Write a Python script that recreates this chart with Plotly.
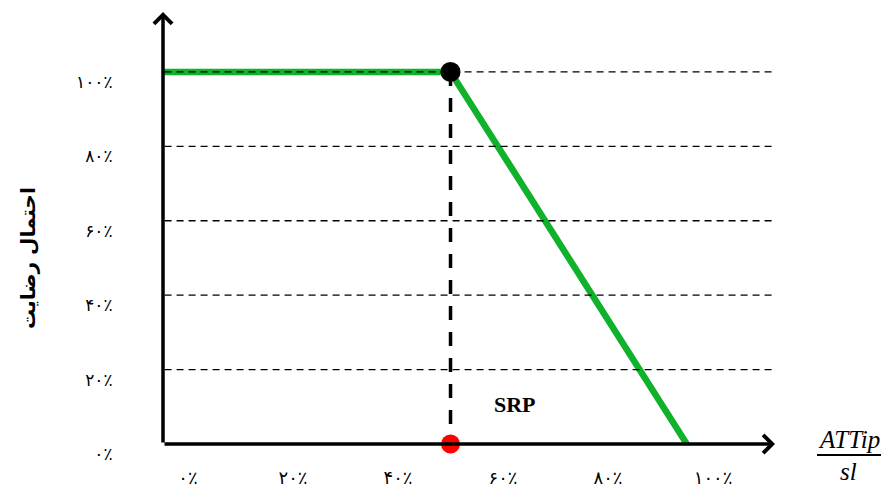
import plotly.graph_objects as go

# ---- data ----
tick_vals = [0, 20, 40, 60, 80, 100]
tick_text = ["۰٪", "۲۰٪", "۴۰٪", "۶۰٪", "۸۰٪", "۱۰۰٪"]
grid_vals = [20, 40, 60, 80, 100]

curve_x = [-4.6, 50, 95]      # satisfaction curve
curve_y = [100, 100, 0]
srp_x = 50                    # SRP point
srp_top = 100
srp_bottom = 0

X_MIN, X_MAX = -4.76, 111.8
Y_MIN, Y_MAX = 0, 116.1

fig = go.Figure()

fig.add_trace(go.Scatter(x=curve_x, y=curve_y, mode="lines",
                         line=dict(color="#10B22C", width=6.5), hoverinfo="skip"))

gx, gy = [], []
for v in grid_vals:
    gx += [X_MIN + 0.3, X_MAX, None]
    gy += [v, v, None]
fig.add_trace(go.Scatter(x=gx, y=gy, mode="lines",
                         line=dict(color="black", width=1.4, dash="7px,5px"), hoverinfo="skip"))

fig.add_trace(go.Scatter(x=[srp_x, srp_x], y=[srp_top, srp_bottom], mode="lines",
                         line=dict(color="black", width=3.5, dash="14px,12px"), hoverinfo="skip"))

fig.add_trace(go.Scatter(x=[srp_x], y=[srp_top], mode="markers",
                         marker=dict(color="black", size=20), hoverinfo="skip"))
fig.add_trace(go.Scatter(x=[srp_x], y=[srp_bottom], mode="markers",
                         marker=dict(color="#FF0000", size=19), hoverinfo="skip", cliponaxis=False))

# axes with arrowheads
fig.add_annotation(x=X_MAX, y=0, ax=X_MIN, ay=0, xref="x", yref="y", axref="x", ayref="y",
                   text="", showarrow=True, arrowhead=4, arrowwidth=3.5, arrowsize=1.0,
                   arrowcolor="black", standoff=0)
fig.add_annotation(x=X_MIN, y=Y_MAX, ax=X_MIN, ay=0, xref="x", yref="y", axref="x", ayref="y",
                   text="", showarrow=True, arrowhead=4, arrowwidth=3.5, arrowsize=1.0,
                   arrowcolor="black", standoff=0)

fig.add_annotation(x=62.3, y=10.5, xref="x", yref="y", text="<b>SRP</b>", showarrow=False,
                   xanchor="center", yanchor="middle",
                   font=dict(family="Liberation Serif", size=22, color="black"))

fig.add_annotation(x=-0.2206, y=50, xref="paper", yref="y", text="<b>احتمال رضایت</b>",
                   textangle=-90, showarrow=False, xanchor="center", yanchor="middle",
                   font=dict(family="DejaVu Sans", size=20, color="black"))

# fraction label ATTip / sl
fig.add_annotation(x=1.1745, y=0.0093, xref="paper", yref="paper", text="<i>ATTip</i>",
                   xanchor="right", yanchor="middle", showarrow=False,
                   font=dict(family="Liberation Serif", size=25, color="black"))
fig.add_annotation(x=1.1193, y=-0.0625, xref="paper", yref="paper", text="<i>sl</i>",
                   xanchor="center", yanchor="middle", showarrow=False,
                   font=dict(family="Liberation Serif", size=25, color="black"))
fig.add_shape(type="line", xref="paper", yref="paper", x0=1.0686, x1=1.1732,
              y0=-0.0255, y1=-0.0255, line=dict(color="black", width=2))

fig.update_layout(
    width=882, height=499,
    margin=dict(l=163, r=107, t=12, b=55, autoexpand=False),
    paper_bgcolor="white", plot_bgcolor="white",
    showlegend=False,
    xaxis=dict(range=[X_MIN, X_MAX], tickvals=tick_vals, ticktext=tick_text,
               showgrid=False, zeroline=False, showline=False, automargin=False,
               ticks="outside", ticklen=17, tickcolor="rgba(0,0,0,0)",
               tickfont=dict(family="DejaVu Sans", size=18, color="black")),
    yaxis=dict(range=[Y_MIN, Y_MAX], tickvals=tick_vals, ticktext=tick_text,
               showgrid=False, zeroline=False, showline=False, automargin=False,
               ticks="outside", ticklen=46, tickcolor="rgba(0,0,0,0)",
               ticklabelshift=10,
               tickfont=dict(family="DejaVu Sans", size=17, color="black")),
)

fig.write_html("out.html", config={"displayModeBar": False},
               post_script="document.body.style.margin='0px';")
